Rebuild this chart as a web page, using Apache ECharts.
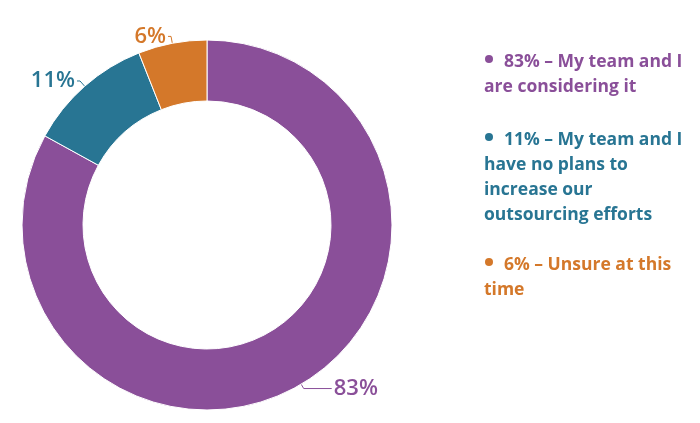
<!DOCTYPE html>
<html>
<head>
<meta charset="utf-8">
<script src="https://cdn.jsdelivr.net/npm/echarts@6/dist/echarts.min.js"></script>
<style>
  html, body { margin: 0; padding: 0; background: #fff; }
  #main { width: 700px; height: 423px; }
</style>
</head>
<body>
<div id="main"></div>
<script>
// answers and their share, in percent
var categories = ['My team and I are considering it', 'My team and I have no plans to increase our outsourcing efforts', 'Unsure at this time'];
var values = [83, 11, 6];
var colors = ['#8a4f99', '#287593', '#d4782a'];
// legend text, already broken into lines like the original
var legendLines = [
    ['My team and I', 'are considering it'],
    ['My team and I', 'have no plans to', 'increase our', 'outsourcing efforts'],
    ['Unsure at this', 'time']
];

var chart = echarts.init(document.getElementById('main'));
var font = '"Open Sans", sans-serif';

// legend built as plain text blocks on the right
var graphics = [];
var blockTop = [62, 140, 265];
var lineH = 25;
for (var i = 0; i < legendLines.length; i++) {
    var y0 = blockTop[i];
    graphics.push({
        type: 'circle', left: 485, top: y0 - 7,
        shape: { r: 4 }, style: { fill: colors[i] }
    });
    for (var j = 0; j < legendLines[i].length; j++) {
        var txt = j === 0 ? values[i] + '% – ' + legendLines[i][j] : legendLines[i][j];
        graphics.push({
            type: 'text',
            x: j === 0 ? 504 : 484,
            y: y0 + j * lineH,
            style: {
                text: txt, fill: colors[i],
                font: 'bold 17.5px ' + font,
                textVerticalAlign: 'middle'
            }
        });
    }
}

chart.setOption({
    animation: false,
    color: colors,
    graphic: graphics,
    series: [{
        type: 'pie',
        center: [207, 225],
        radius: [124, 185],
        startAngle: 90,
        clockwise: true,
        itemStyle: { borderColor: '#fff', borderWidth: 1 },
        label: {
            show: true,
            formatter: '{c}%',
            fontFamily: font,
            fontSize: 22,
            fontWeight: 600,
            distanceToLabelLine: 2
        },
        labelLine: {
            show: true,
            length: 7,
            length2: 3,
            lineStyle: { width: 1 }
        },
        data: categories.map(function (c, i) {
            var d = { name: c, value: values[i], label: { color: colors[i] } };
            // the big slice has a longer, flatter leader line
            if (i === 0) d.labelLine = { length: 5, length2: 28 };
            return d;
        })
    }]
});
</script>
</body>
</html>
